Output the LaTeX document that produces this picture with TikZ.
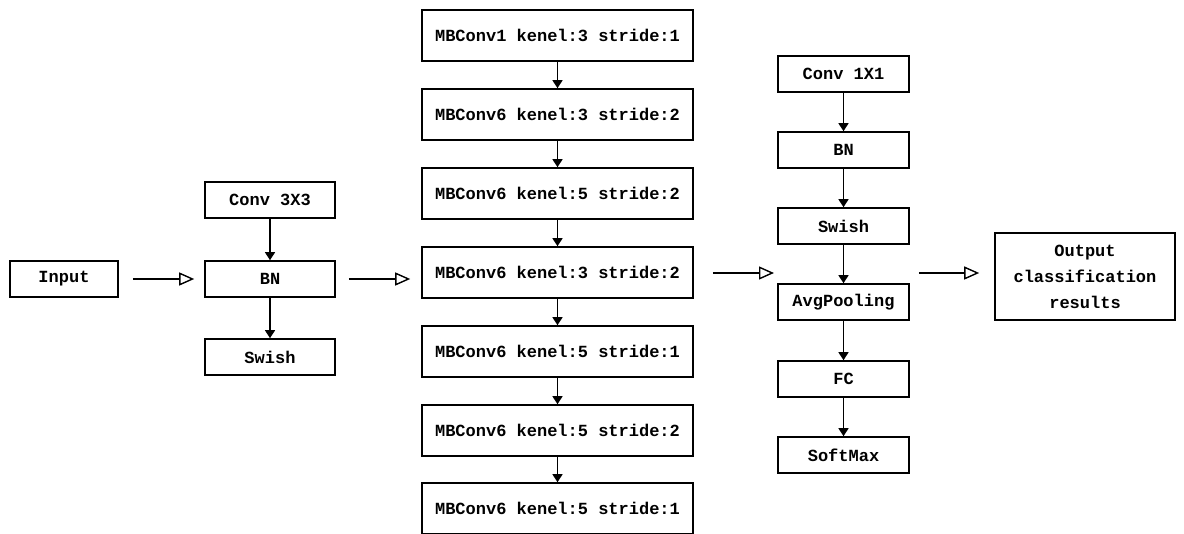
\documentclass[tikz,border=0pt]{standalone}
\usepackage{fontspec}
\setmonofont{Liberation Mono}
\usetikzlibrary{arrows.meta}
\begin{document}
\begin{tikzpicture}[x=1pt,y=-1pt,
  blk/.style={draw, line width=1.6pt, inner sep=0pt, align=center,
    font=\ttfamily\bfseries\fontsize{17}{26}\selectfont},
  sbox/.style={blk, minimum width=130pt, minimum height=36pt},
  mbox/.style={blk, minimum width=271pt, minimum height=51pt},
  down/.style={-{Triangle[length=8pt,width=10pt]}, line width=1.4pt},
  flow/.style={-{Triangle[open,length=15pt,width=13pt,line width=1.4pt]}, line width=1.4pt}]
\useasboundingbox (0,0) rectangle (1184,534);

% stem
\node[sbox, minimum width=108pt] (inp) at (64,279) {Input};
\node[sbox] (c3) at (270,200) {Conv 3X3};
\node[sbox] (bn1) at (270,279) {BN};
\node[sbox] (sw1) at (270,357) {Swish};

% MBConv stages
\node[mbox] (m1) at (557.5,35.5)  {MBConv1 kenel:3 stride:1};
\node[mbox] (m2) at (557.5,114.5) {MBConv6 kenel:3 stride:2};
\node[mbox] (m3) at (557.5,193.5) {MBConv6 kenel:5 stride:2};
\node[mbox] (m4) at (557.5,272.5) {MBConv6 kenel:3 stride:2};
\node[mbox] (m5) at (557.5,351.5) {MBConv6 kenel:5 stride:1};
\node[mbox] (m6) at (557.5,430.5) {MBConv6 kenel:5 stride:2};
\node[mbox] (m7) at (557.5,508.5) {MBConv6 kenel:5 stride:1};

% head
\node[sbox, minimum width=131pt] (c1) at (843.5,74)  {Conv 1X1};
\node[sbox, minimum width=131pt] (bn2) at (843.5,150) {BN};
\node[sbox, minimum width=131pt] (sw2) at (843.5,226) {Swish};
\node[sbox, minimum width=131pt] (ap) at (843.5,302) {AvgPooling};
\node[sbox, minimum width=131pt] (fc) at (843.5,379) {FC};
\node[sbox, minimum width=131pt] (sm) at (843.5,455) {SoftMax};

% result
\node[blk, minimum width=180pt, minimum height=87pt] (out) at (1085,276.5)
  {Output\\classification\\results};

% vertical links
\draw[down] (c3) -- (bn1);
\draw[down] (bn1) -- (sw1);
\foreach \a/\b in {m1/m2,m2/m3,m3/m4,m4/m5,m5/m6,m6/m7,c1/bn2,bn2/sw2,sw2/ap,ap/fc,fc/sm}
  \draw[down] (\a) -- (\b);

% stage-to-stage links
\draw[flow, shorten <=14pt, shorten >=10pt] (inp.east) -- (bn1.west);
\draw[flow, shorten <=13pt, shorten >=11pt] (bn1.east) -- (bn1.east -| m4.west);
\coordinate (hin) at (774,273);
\draw[flow, shorten <=19pt] (m4.east |- hin) -- (hin);
\draw[flow, shorten <=9pt, shorten >=15pt] (sw2.east |- hin) -- (out.west |- hin);
\end{tikzpicture}
\end{document}
